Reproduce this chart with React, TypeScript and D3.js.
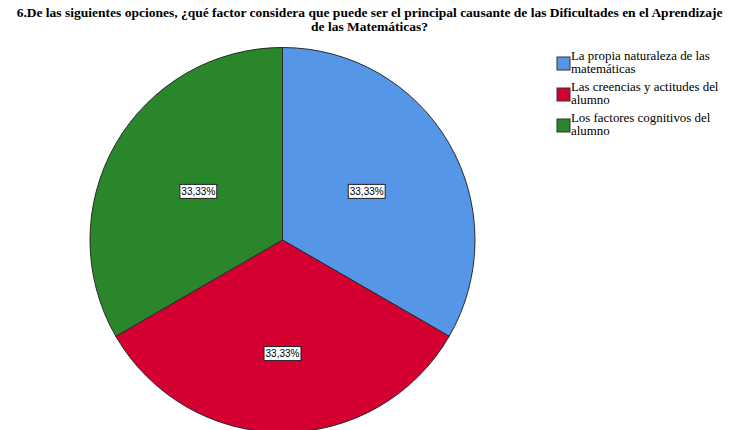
import React, { useEffect, useRef } from "react";
import * as d3 from "d3";

const titleLines = [
  "6.De las siguientes opciones, ¿qué factor considera que puede ser el principal causante de las Dificultades en el Aprendizaje",
  "de las Matemáticas?",
];
const categories = [
  "La propia naturaleza de las matemáticas",
  "Las creencias y actitudes del alumno",
  "Los factores cognitivos del alumno",
];
const legendLines = [
  ["La propia naturaleza de las", "matemáticas"],
  ["Las creencias y actitudes del", "alumno"],
  ["Los factores cognitivos del", "alumno"],
];
const values = [33.33, 33.33, 33.33];
const labels = ["33,33%", "33,33%", "33,33%"];
const colors = ["#5596E6", "#D50032", "#2A862A"];
const labelRadiusFactor = [0.505, 0.59, 0.505];

const W = 731;
const H = 430;

export default function App() {
  const ref = useRef<SVGSVGElement>(null);
  useEffect(() => {
    const svg = d3.select(ref.current);
    svg.selectAll("*").remove();
    svg.append("rect").attr("width", W).attr("height", H).attr("fill", "#fff");

    // title
    const title = svg.append("g");
    titleLines.forEach((t, i) => {
      title
        .append("text")
        .attr("x", 369.5)
        .attr("y", 16.5 + i * 14)
        .attr("text-anchor", "middle")
        .attr("font-family", "'Liberation Serif', 'Times New Roman', serif")
        .attr("font-weight", "bold")
        .attr("font-size", 13.5)
        .attr("fill", "#000")
        .text(t);
    });

    const cx = 282.5, cy = 240, r = 192.5;
    const pie = d3.pie<number>().sort(null).value((d) => d);
    const arcs = pie(values);
    const arc = d3.arc<d3.PieArcDatum<number>>().innerRadius(0).outerRadius(r);
    const g = svg.append("g").attr("transform", `translate(${cx},${cy})`);
    g.selectAll("path.slice")
      .data(arcs)
      .join("path")
      .attr("class", "slice")
      .attr("d", arc)
      .attr("fill", (_d, i) => colors[i])
      .attr("stroke", "#2a2a2a")
      .attr("stroke-width", 1);

    arcs.forEach((a, i) => {
      const lr = r * labelRadiusFactor[i];
      const [lx, ly] = d3.arc<d3.PieArcDatum<number>>().innerRadius(lr).outerRadius(lr).centroid(a);
      const lg = g.append("g").attr("transform", `translate(${lx},${ly})`);
      const rect = lg.append("rect").attr("fill", "#fff").attr("stroke", "#222").attr("stroke-width", 1);
      const t = lg
        .append("text")
        .attr("text-anchor", "middle")
        .attr("dy", "0.36em")
        .attr("font-family", "'Liberation Sans', Arial, sans-serif")
        .attr("font-size", 10)
        .attr("fill", "#000")
        .text(labels[i]);
      const w = (t.node() as SVGTextElement).getComputedTextLength() + 3;
      rect.attr("x", -w / 2).attr("y", -7).attr("width", w).attr("height", 14);
    });

    // legend
    const lg = svg.append("g");
    categories.forEach((_c, i) => {
      const y0 = 57 + i * 31;
      lg.append("rect")
        .attr("x", 557)
        .attr("y", y0)
        .attr("width", 13)
        .attr("height", 13)
        .attr("fill", colors[i])
        .attr("stroke", "#333")
        .attr("stroke-width", 1);
      legendLines[i].forEach((line, j) => {
        lg.append("text")
          .attr("x", 571)
          .attr("y", y0 + 3 + j * 13)
          .attr("font-family", "'Liberation Serif', 'Times New Roman', serif")
          .attr("font-size", 12.9)
          .attr("fill", "#000")
          .text(line);
      });
    });
  }, []);
  return (
    <svg
      ref={ref}
      width={W}
      height={H}
      style={{ position: "absolute", left: 0, top: 0, display: "block" }}
    />
  );
}
